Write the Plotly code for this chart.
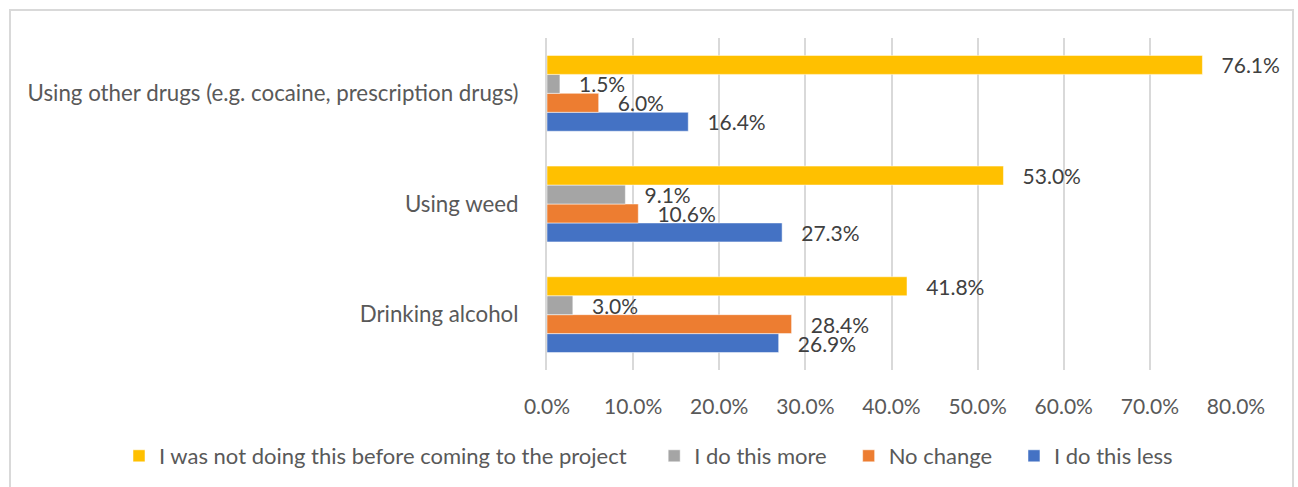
import plotly.graph_objects as go

categories = ["Drinking alcohol", "Using weed", "Using other drugs (e.g. cocaine, prescription drugs)"]
series_names = ["I do this less", "No change", "I do this more", "I was not doing this before coming to the project"]
less = [0.269, 0.273, 0.164]
no_change = [0.284, 0.106, 0.060]
more = [0.030, 0.091, 0.015]
not_before = [0.418, 0.530, 0.761]
colors = ["#4472C4", "#ED7D31", "#A5A5A5", "#FFC000"]
tick_vals = [0, 0.1, 0.2, 0.3, 0.4, 0.5, 0.6, 0.7, 0.8]
tick_text = ["0.0%", "10.0%", "20.0%", "30.0%", "40.0%", "50.0%", "60.0%", "70.0%", "80.0%"]
legend_pad = ["", "   ", "   ", "    "]

FONT = "Lato, Carlito, Calibri, sans-serif"
W, H = 1298, 487
ML, MR, MT, MB = 547, 62, 38, 117
PW, PH = W - ML - MR, H - MT - MB

fig = go.Figure()
for name, pad, vals, col in zip(series_names, legend_pad, [less, no_change, more, not_before], colors):
    fig.add_trace(go.Bar(
        y=categories, x=vals, name=name + pad, orientation="h",
        marker=dict(color=col, line=dict(color="white", width=0.5)),
        text=[f"{v*100:.1f}%" for v in vals],
        texttemplate="   %{text}",
        textposition="outside",
        textfont=dict(family=FONT, size=21, color="#404040"),
        constraintext="none",
        cliponaxis=False,
    ))

def px_x(p):
    return (p - ML) / PW

def px_y(p):
    return (H - MB - p) / PH

fig.update_layout(
    width=W, height=H,
    margin=dict(l=ML, r=MR, t=MT, b=MB, autoexpand=False),
    barmode="group", bargap=0.315, bargroupgap=0,
    plot_bgcolor="white", paper_bgcolor="white",
    font=dict(family=FONT, size=21, color="#595959"),
    xaxis=dict(range=[0, 0.8], tickvals=tick_vals, ticktext=tick_text,
               showgrid=True, gridcolor="#D9D9D9", gridwidth=2,
               zeroline=False, showline=False, ticks="",
               ticklabelstandoff=22, automargin=False,
               tickfont=dict(family=FONT, size=21, color="#595959")),
    yaxis=dict(showgrid=False, zeroline=False, showline=True,
               linecolor="#D9D9D9", linewidth=2, ticks="",
               ticklabelstandoff=22, automargin=False,
               tickfont=dict(family=FONT, size=22.3, color="#595959")),
    legend=dict(orientation="h", traceorder="reversed",
                x=px_x(119), xanchor="left", y=px_y(456), yanchor="middle",
                font=dict(family=FONT, size=22, color="#595959"),
                itemwidth=30),
    showlegend=True,
    shapes=[dict(type="rect", xref="paper", yref="paper",
                 x0=px_x(10), x1=px_x(1293), y0=px_y(500), y1=px_y(10),
                 line=dict(color="#D9D9D9", width=2), layer="below")],
)

fig.write_html("out.html", config={"displayModeBar": False},
               post_script="document.body.style.margin='0';document.body.style.overflow='hidden';")
